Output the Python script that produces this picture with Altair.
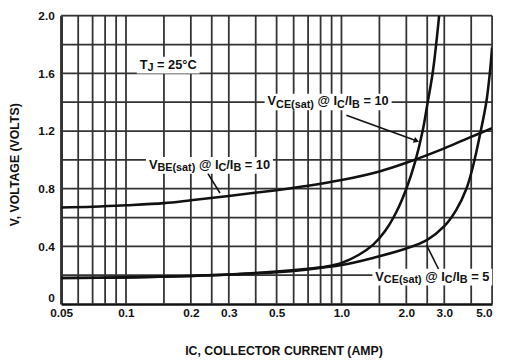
import math
import altair as alt
import pandas as pd

# ---------------- data ----------------
grid_i = [0.05, 0.06, 0.07, 0.08, 0.09, 0.1, 0.15, 0.2, 0.25, 0.3, 0.4, 0.5, 0.6, 0.7,
          0.8, 0.9, 1.0, 1.5, 2.0, 2.5, 3.0, 4.0, 5.0]
grid_v = [0.2, 0.4, 0.6, 0.8, 1.0, 1.2, 1.4, 1.6, 1.8, 2.0]
tick_i = [0.05, 0.1, 0.2, 0.3, 0.5, 1.0, 2.0, 3.0, 5.0]
tick_v = [0, 0.4, 0.8, 1.2, 1.6, 2.0]

vbe_i = [0.05, 0.07, 0.1, 0.15, 0.2, 0.3, 0.5, 0.7, 1.0, 1.5, 2.0, 3.0, 4.0, 5.0]
vbe_v = [0.67, 0.675, 0.685, 0.70, 0.72, 0.75, 0.79, 0.82, 0.86, 0.92, 0.98, 1.08, 1.16, 1.22]

vce10_i = [0.05, 0.1, 0.2, 0.3, 0.5, 0.7, 0.85, 1.0, 1.2, 1.4, 1.6, 1.8, 2.0, 2.2, 2.38, 2.5, 2.66, 2.84]
vce10_v = [0.18, 0.185, 0.195, 0.205, 0.225, 0.245, 0.26, 0.285, 0.34, 0.41, 0.51, 0.64, 0.80, 0.99, 1.2, 1.38, 1.62, 2.0]

vce5_i = [0.05, 0.1, 0.2, 0.3, 0.5, 0.7, 1.0, 1.4, 2.0, 2.5, 3.0, 3.4, 3.8, 4.1, 4.43, 4.7, 4.88, 5.0]
vce5_v = [0.18, 0.185, 0.195, 0.205, 0.22, 0.24, 0.27, 0.32, 0.385, 0.445, 0.54, 0.65, 0.80, 0.97, 1.2, 1.4, 1.6, 1.78]

# annotations: (pieces [(text, is_sub)], centre current, centre voltage)
ann_pieces = [
    [("T", 0), ("J", 1), (" = 25°C", 0)],
    [("V", 0), ("CE(sat)", 1), (" @ I", 0), ("C", 1), ("/I", 0), ("B", 1), (" = 10", 0)],
    [("V", 0), ("BE(sat)", 1), (" @ I", 0), ("C", 1), ("/I", 0), ("B", 1), (" = 10", 0)],
    [("V", 0), ("CE(sat)", 1), (" @ I", 0), ("C", 1), ("/I", 0), ("B", 1), (" = 5", 0)],
]
ann_xc = [0.157, 0.867, 0.244, 2.64]
ann_yc = [1.66, 1.405, 0.966, 0.19]

# pointer lines (current, voltage) -> (current, voltage)
ptr_i1 = [1.054, 0.240, 2.48]
ptr_v1 = [1.31, 0.905, 0.41]
ptr_i2 = [2.21, 0.273, 2.82]
ptr_v2 = [1.135, 0.77, 0.243]

# ---------------- layout helpers ----------------
W, H = 438, 293
XMIN, XMAX = 0.05, 5.0
PPD = W / math.log10(XMAX / XMIN)
PPV = H / 2.0
FONT = "Liberation Sans"
MAIN, SUB = 13, 11
INK = "#111111"

AW = {' ': 278, '(': 333, ')': 333, '/': 278, '=': 584, '@': 975, '.': 278, ',': 278,
      '°': 400, 'A': 722, 'B': 722, 'C': 722, 'E': 667, 'I': 278, 'J': 556, 'T': 611,
      'V': 667, 'a': 556, 's': 556, 't': 333}


def tw(s, size):
    return sum(AW.get(c, 556) for c in s) * size / 1000.0


def shift_x(xc, px):
    return xc * 10 ** (px / PPD)


rows = []
boxes = []
for pieces, xc, yc in zip(ann_pieces, ann_xc, ann_yc):
    total = sum(tw(t, SUB if s else MAIN) for t, s in pieces)
    off = -total / 2
    for t, s in pieces:
        size = SUB if s else MAIN
        lead = len(t) - len(t.lstrip(" "))
        body = t.lstrip(" ")
        off += tw(" " * lead, size)
        rows.append({"I": shift_x(xc, off), "V": yc - (3.5 / PPV if s else 0), "t": body, "fs": size})
        off += tw(body, size)
    boxes.append({"I": shift_x(xc, -total / 2 - 3), "I2": shift_x(xc, total / 2 + 3),
                  "V": yc - 9 / PPV, "V2": yc + 8 / PPV})

text_df = pd.DataFrame(rows)
box_df = pd.DataFrame(boxes)

curves = pd.concat([
    pd.DataFrame({"I": vbe_i, "V": vbe_v, "s": "vbe"}),
    pd.DataFrame({"I": vce10_i, "V": vce10_v, "s": "vce10"}),
    pd.DataFrame({"I": vce5_i, "V": vce5_v, "s": "vce5"}),
])
ptr_df = pd.DataFrame({"I": ptr_i1, "V": ptr_v1, "I2": ptr_i2, "V2": ptr_v2})
arrow_df = pd.DataFrame({"I": [ptr_i2[0]], "V": [ptr_v2[0]]})

xscale = alt.Scale(type="log", domain=[XMIN, XMAX], nice=False)
yscale = alt.Scale(domain=[0, 2.0], nice=False)

X = alt.X("I:Q", scale=xscale, axis=alt.Axis(
    values=tick_i, grid=False, ticks=False, domainColor=INK, domainWidth=2.5,
    labelExpr="datum.value >= 1 ? format(datum.value, '.1f') : format(datum.value, '~g')",
    labelAlign=alt.condition("datum.value >= 5", alt.value("right"), alt.value("center")),
    labelFont=FONT, labelFontSize=12, labelFontWeight="bold", labelColor=INK, labelPadding=4,
    labelFlush=False, labelOverlap=False,
    title="IC, COLLECTOR CURRENT (AMP)", titleFont=FONT, titleFontSize=12.5, titleFontWeight="bold",
    titleColor=INK, titleX=226, titleY=51, titleBaseline="alphabetic", titleAnchor="start",
    titleAlign="center"))
Y = alt.Y("V:Q", scale=yscale, axis=alt.Axis(
    values=tick_v, grid=False, ticks=False, domainColor=INK, domainWidth=2.5,
    labelExpr="datum.value == 0 ? '0' : format(datum.value, '.1f')",
    labelBaseline=alt.condition("datum.value == 0", alt.value("bottom"), alt.value("middle")),
    labelFont=FONT, labelFontSize=12, labelFontWeight="bold", labelColor=INK, labelPadding=7,
    labelFlush=False, labelOverlap=False,
    title="V, VOLTAGE (VOLTS)", titleFont=FONT, titleFontSize=12.5, titleFontWeight="bold",
    titleColor=INK, titleX=-47, titleY=151, titleAngle=-90, titleAlign="center",
    titleBaseline="middle"))

gx = alt.Chart(pd.DataFrame({"I": grid_i})).mark_rule(color="#333333", strokeWidth=1.8).encode(x=X)
gy = alt.Chart(pd.DataFrame({"V": grid_v})).mark_rule(color="#333333", strokeWidth=1.8).encode(y=Y)

bx = alt.Chart(box_df).mark_rect(color="white").encode(x=X, x2="I2", y=Y, y2="V2")

lines = alt.Chart(curves).mark_line(color=INK, strokeWidth=2.6, interpolate="catmull-rom",
                                    clip=True).encode(x=X, y=Y, detail="s:N")

ptr = alt.Chart(ptr_df).mark_rule(color=INK, strokeWidth=1.6).encode(x=X, y=Y, x2="I2", y2="V2")

arrow = alt.Chart(arrow_df).mark_point(shape="triangle", filled=True, color=INK, size=40,
                                       angle=110, opacity=1).encode(x=X, y=Y)

txt = alt.Chart(text_df).mark_text(align="left", baseline="middle", font=FONT, fontWeight="bold",
                                   color=INK).encode(
    x=X, y=Y, text="t:N", size=alt.Size("fs:Q", scale=None, legend=None))

chart = alt.layer(gx, gy, bx, lines, ptr, arrow, txt).properties(
    width=W, height=H,
    autosize=alt.AutoSizeParams(type="none"),
    padding={"left": 54, "top": 5, "right": 5, "bottom": 52},
).configure_view(stroke=INK, strokeWidth=2).configure(background="white")

chart.save("out.html", embed_options={"renderer": "svg", "actions": False})
